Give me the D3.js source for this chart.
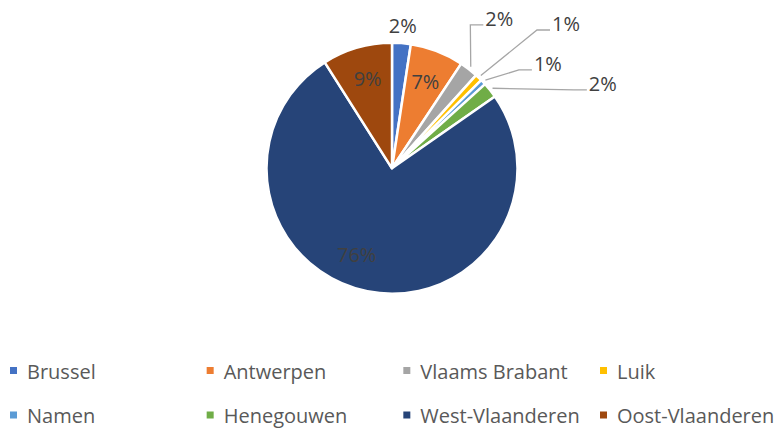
<!DOCTYPE html>
<html>
<head>
<meta charset="utf-8">
<script src="https://cdn.jsdelivr.net/npm/d3@7"></script>
<style>
  body { margin: 0; background: #fff; }
  svg text { font-family: "Open Sans", sans-serif; }
</style>
</head>
<body>
<div id="chart"></div>
<script>
// chart data (percent share per province)
const provinces = ["Brussel", "Antwerpen", "Vlaams Brabant", "Luik", "Namen", "Henegouwen", "West-Vlaanderen", "Oost-Vlaanderen"];
const shares = [2.4, 6.9, 2.4, 0.9, 0.7, 2.0, 75.7, 9.0];
const colors = ["#4472C4", "#ED7D31", "#A5A5A5", "#FFC000", "#5B9BD5", "#70AD47", "#264478", "#9E480E"];
// label placement: "in" = inside, "out" = just outside, "lead" = with leader line to [dist, angle deg]
const labelMode = ["out", "in", "lead", "lead", "lead", "lead", "in", "in"];
const leaderEnds = [null, null, [170, 32.5], [210, 48.8], [171, 54.9], [210, 68.1], null, null];
const labelNudge = [0, 0, 0, 0, 0, 0, 11, 1]; // degrees, shifts inside labels along the arc

function drawPie() {
    const width = 784, height = 428;
    const cx = 392, cy = 168.3, radius = 125.5;
    const fontSize = "20px";

    const svg = d3.select("#chart")
        .append("svg")
        .attr("width", width)
        .attr("height", height);

    const g = svg.append("g")
        .attr("transform", "translate(" + cx + "," + cy + ")");

    const pie = d3.pie().sort(null).value(d => d);
    const arcs = pie(shares);
    const arc = d3.arc().innerRadius(0).outerRadius(radius);

    // slices
    g.selectAll("path.slice")
        .data(arcs)
        .enter().append("path")
        .attr("class", "slice")
        .attr("d", arc)
        .attr("fill", (d, i) => colors[i])
        .attr("stroke", "#fff")
        .attr("stroke-width", 2.5)
        .attr("stroke-linejoin", "round");

    const mid = d => (d.startAngle + d.endAngle) / 2;
    const polar = (r, a) => [r * Math.sin(a), -r * Math.cos(a)];

    // data labels
    arcs.forEach((d, i) => {
        const txt = Math.round(shares[i]) + "%";
        const a = mid(d) + labelNudge[i] * Math.PI / 180;
        if (labelMode[i] === "in") {
            const p = polar(radius * 0.74, a);
            g.append("text")
                .attr("x", p[0]).attr("y", p[1])
                .attr("text-anchor", "middle")
                .attr("dominant-baseline", "central")
                .style("font-size", fontSize)
                .style("fill", "#404040")
                .text(txt);
        } else if (labelMode[i] === "out") {
            const p = polar(radius + 18, a);
            g.append("text")
                .attr("x", p[0]).attr("y", p[1])
                .attr("text-anchor", "middle")
                .attr("dominant-baseline", "central")
                .style("font-size", fontSize)
                .style("fill", "#404040")
                .text(txt);
        } else {
            const start = polar(radius + 3, a);
            const le = leaderEnds[i];
            const end = polar(le[0], le[1] * Math.PI / 180);
            const elbow = [end[0] - 13, end[1]];
            g.append("polyline")
                .attr("points", [start, elbow, end].map(p => p.join(",")).join(" "))
                .attr("fill", "none")
                .attr("stroke", "#A6A6A6")
                .attr("stroke-width", 1.3);
            g.append("text")
                .attr("x", end[0] + 2).attr("y", end[1] + 1)
                .style("font-size", fontSize)
                .style("fill", "#404040")
                .text(txt);
        }
    });

    // legend
    const colX = d3.scalePoint().domain(d3.range(4)).range([10, 600]);
    const rowY = [378.5, 423];
    const legend = svg.append("g");
    provinces.forEach((name, i) => {
        const x = colX(i % 4), y = rowY[Math.floor(i / 4)];
        legend.append("rect")
            .attr("x", x).attr("y", y - 11.5)
            .attr("width", 7).attr("height", 7)
            .attr("fill", colors[i]);
        legend.append("text")
            .attr("x", x + 17).attr("y", y)
            .style("font-size", fontSize)
            .style("fill", "#595959")
            .text(name);
    });
}

drawPie();
</script>
</body>
</html>
